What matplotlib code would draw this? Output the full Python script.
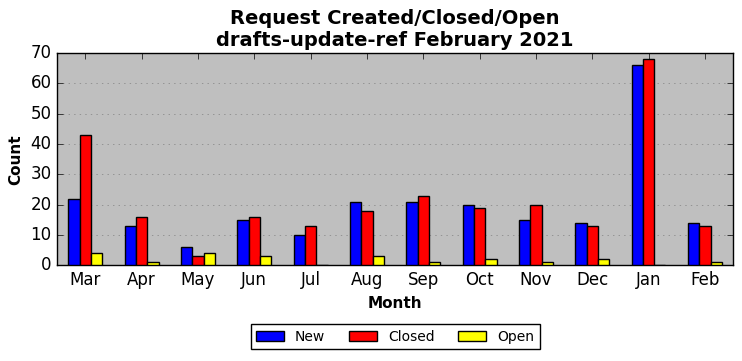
import numpy as np
import matplotlib
matplotlib.use('Agg')
import matplotlib.pyplot as plt

plt.style.use('classic')

months = ['Mar', 'Apr', 'May', 'Jun', 'Jul', 'Aug', 'Sep', 'Oct', 'Nov', 'Dec', 'Jan', 'Feb']
new = [22, 13, 6, 15, 10, 21, 21, 20, 15, 14, 66, 14]
closed = [43, 16, 3, 16, 13, 18, 23, 19, 20, 13, 68, 13]
opened = [4, 1, 4, 3, 0, 3, 1, 2, 1, 2, 0, 1]

x = np.arange(len(months))
w = 0.2

fig, ax = plt.subplots(figsize=(7.42, 3.61), dpi=100)
fig.subplots_adjust(left=0.077, right=0.988, top=0.853, bottom=0.265)
ax.set_facecolor('#bfbfbf')

ax.bar(x - w, new, w, align='center', color='blue', edgecolor='black', label='New', zorder=3)
ax.bar(x, closed, w, align='center', color='red', edgecolor='black', label='Closed', zorder=3)
ax.bar(x + w, opened, w, align='center', color='yellow', edgecolor='black', label='Open', zorder=3)

ax.set_xticks(x)
ax.set_xticklabels(months)
ax.set_xlim(-0.5, len(months) - 0.5)
ax.set_ylim(0, 70)
ax.set_yticks(range(0, 71, 10))
ax.yaxis.grid(True, linestyle=':', color='gray')
ax.set_axisbelow(True)

ax.set_xlabel('Month', fontsize=11, fontweight='bold')
ax.set_ylabel('Count', fontsize=11, fontweight='bold')
ax.set_title('Request Created/Closed/Open\ndrafts-update-ref February 2021', fontsize=14, fontweight='bold')

ax.legend(loc='upper center', bbox_to_anchor=(0.5, -0.245), ncol=3, fontsize=10,
          fancybox=False, columnspacing=1.7)

fig.savefig('out.png', dpi=100)
